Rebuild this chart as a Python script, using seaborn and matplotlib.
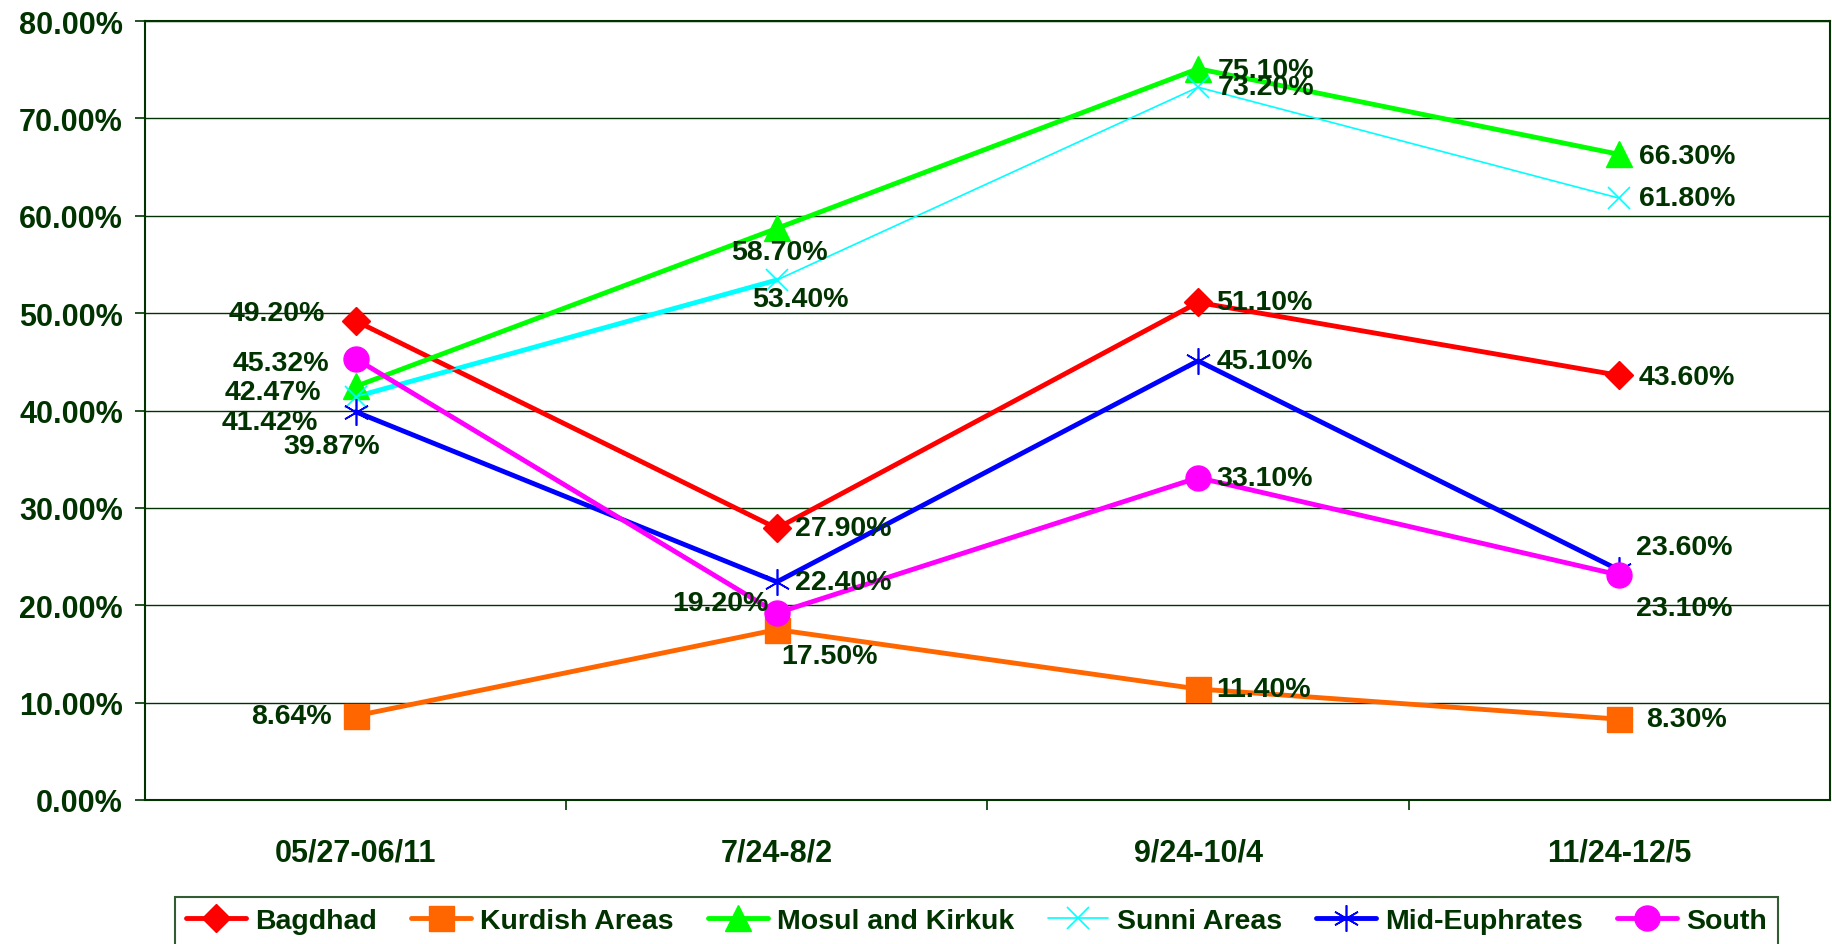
import matplotlib
matplotlib.use("Agg")
import matplotlib.pyplot as plt
from matplotlib.ticker import FixedLocator
import seaborn as sns
import pandas as pd

sns.set_theme(style="white")
plt.rcParams["font.family"] = ["Liberation Sans", "DejaVu Sans"]
plt.rcParams["font.weight"] = "bold"

periods = ["05/27-06/11", "7/24-8/2", "9/24-10/4", "11/24-12/5"]
regions = ["Bagdhad", "Kurdish Areas", "Mosul and Kirkuk",
           "Sunni Areas", "Mid-Euphrates", "South"]

bagdhad = [49.20, 27.90, 51.10, 43.60]
kurdish = [8.64, 17.50, 11.40, 8.30]
mosul_kirkuk = [42.47, 58.70, 75.10, 66.30]
sunni = [41.42, 53.40, 73.20, 61.80]
mid_euphrates = [39.87, 22.40, 45.10, 23.60]
south = [45.32, 19.20, 33.10, 23.10]

values = [bagdhad, kurdish, mosul_kirkuk, sunni, mid_euphrates, south]

df = pd.DataFrame({
    "region": [r for r in regions for _ in periods],
    "period": periods * len(regions),
    "value": [v for series in values for v in series],
})

TXT = "#003300"

# colour, marker, marker size, line width, marker edge width
styles = {
    "Bagdhad": ("#FF0000", "D", 14, 3.5, 1),
    "Kurdish Areas": ("#FF6600", "s", 18, 3.5, 1),
    "Mosul and Kirkuk": ("#00FF00", "^", 19, 3.5, 1),
    "Sunni Areas": ("#00FFFF", "x", 16, 1.2, 1.2),
    "Mid-Euphrates": ("#0000FF", (6, 2, 0), 19, 3.5, 1.2),
    "South": ("#FF00FF", "o", 18, 3.5, 1),
}

# label offsets in points and alignment, per region / period
label_pos = {
    "Bagdhad": [(-22, 6, "right"), (13, 0, "left"), (13, 0, "left"), (14, -1, "left")],
    "Kurdish Areas": [(-17, 0, "right"), (3, -19, "left"), (13, 0, "left"), (19, 0, "left")],
    "Mosul and Kirkuk": [(-25, -4, "right"), (2, -17, "center"), (14, -1, "left"), (14, -1, "left")],
    "Sunni Areas": [(-27, -18, "right"), (17, -14, "center"), (14, 0, "left"), (14, 0, "left")],
    "Mid-Euphrates": [(-17, -25, "center"), (13, 0, "left"), (13, 0, "left"), (12, 17, "left")],
    "South": [(-19, -3, "right"), (-6, 7, "right"), (13, 0, "left"), (12, -24, "left")],
}

fig = plt.figure(figsize=(18.33, 9.45), dpi=100)
ax = fig.add_axes([145 / 1833, 1 - 801 / 945, 1685 / 1833, 779 / 945])

for region in regions:
    color, marker, ms, lw, mew = styles[region]
    sub = df[df.region == region]
    sns.lineplot(data=sub, x="period", y="value", ax=ax, sort=False,
                 errorbar=None, color=color, marker=marker, markersize=ms,
                 linewidth=lw, markeredgecolor=color, markeredgewidth=mew,
                 label=region, zorder=3)
    if region == "Sunni Areas":
        # the first segment is drawn heavy in the original
        sns.lineplot(data=sub.iloc[:2], x="period", y="value", ax=ax,
                     sort=False, errorbar=None, color=color, linewidth=3.5,
                     zorder=2.9, legend=False)
    for i, (p, v) in enumerate(zip(sub.period, sub.value)):
        dx, dy, ha = label_pos[region][i]
        ax.annotate(f"{v:.2f}%", (i, v), xytext=(dx, dy),
                    textcoords="offset points", ha=ha, va="center",
                    fontsize=20.5, fontweight="bold", color=TXT, zorder=4)

ax.set_xlim(-0.5, 3.5)
ax.set_ylim(0, 80)
ax.set_yticks(range(0, 81, 10))
ax.set_yticklabels([f"{t:.2f}%" for t in range(0, 81, 10)])
ax.set_xticks(range(len(periods)))
ax.set_xticklabels(periods)
ax.xaxis.set_minor_locator(FixedLocator([0.5, 1.5, 2.5]))
ax.set_xlabel("")
ax.set_ylabel("")

ax.grid(axis="y", color=TXT, linewidth=1.0)
ax.set_axisbelow(True)
for s in ax.spines.values():
    s.set_visible(True)
    s.set_color(TXT)
    s.set_linewidth(1.5)

ax.tick_params(axis="y", which="major", left=True, direction="out", length=7,
               width=1.2, color=TXT, labelsize=22, labelcolor=TXT, pad=9)
ax.tick_params(axis="x", which="major", length=0, labelsize=22,
               labelcolor=TXT, pad=27)
ax.tick_params(axis="x", which="minor", bottom=True, direction="out",
               length=7, width=1.2, color=TXT)
for lab in ax.get_xticklabels() + ax.get_yticklabels():
    lab.set_fontweight("bold")

leg = ax.legend(loc="upper left", bbox_to_anchor=(175 / 1833, 1 - 898 / 945),
                bbox_transform=fig.transFigure, ncol=6, frameon=True,
                fancybox=False, fontsize=20.5, handlelength=2.1,
                columnspacing=1.2, handletextpad=0.32, borderpad=0.4,
                borderaxespad=0)
leg.get_frame().set_edgecolor(TXT)
leg.get_frame().set_linewidth(1.5)
for t in leg.get_texts():
    t.set_color(TXT)
    t.set_fontweight("bold")

fig.savefig("out.png", dpi=100)
